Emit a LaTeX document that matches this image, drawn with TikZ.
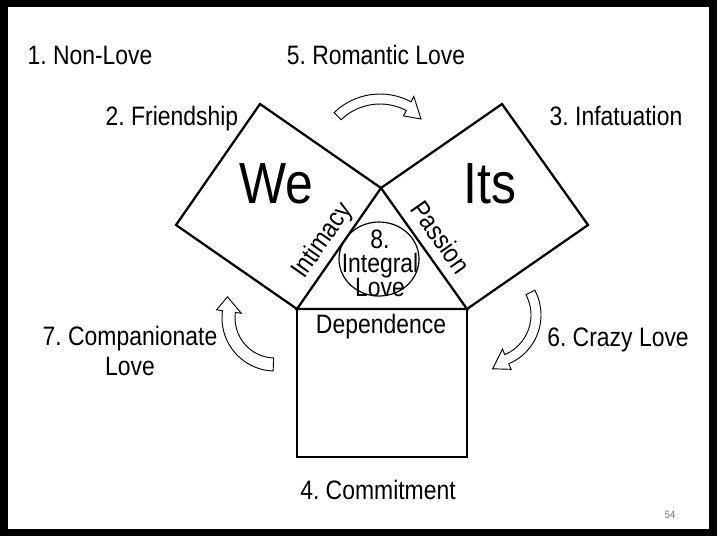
\documentclass[tikz,border=0pt]{standalone}
\usepackage{fontspec}
\setmainfont{Liberation Sans}[FakeStretch=0.86]
\frenchspacing
\usetikzlibrary{calc}
\tikzset{
  lbl/.style={font=\fontsize{20}{22.5}\selectfont, inner sep=0pt, align=center},
  big/.style={font=\fontsize{43.5}{48}\selectfont, inner sep=0pt},
  side/.style={line width=1.7pt, line join=miter},
  ring/.style={draw, line width=0.9pt},
  hollow/.style={draw, fill=white, line width=0.7pt, line join=miter},
  pagenum/.style={font=\fontsize{8}{9}\selectfont, text=black!55, inner sep=0pt}}
% bent block arrow: centre, tail angle, head angle, tip angle, outer r, inner r, tip r
\newcommand{\bentarrow}[7]{%
  \draw[hollow] ($(#1)+(#2:#5)$) arc[start angle=#2, end angle=#3, radius=#5]
    -- ($(#1)+(#3:{#5+6})$) -- ($(#1)+(#4:#7)$)
    -- ($(#1)+(#3:{#6-6})$) -- ($(#1)+(#3:#6)$)
    arc[start angle=#3, end angle=#2, radius=#6] -- cycle;}

\begin{document}
\begin{tikzpicture}[x=0.75pt, y=0.75pt]
  \useasboundingbox (0,0) rectangle (720,-540);
  \draw[line width=5.6pt] (4,-3.5) rectangle (713,-532.5);

  % triangle with its three squares
  \coordinate (apex) at (381,-188);
  \coordinate (bl) at (297,-309);
  \coordinate (br) at (467,-309);
  \draw[side] (bl) -- (apex) -- (br) -- cycle;
  \draw[side] (bl) -- (176,-225) -- (260,-104) -- (apex);
  \draw[side] (br) -- (588,-225) -- (502,-104) -- (apex);
  \draw[side] (bl) rectangle (467,-457);
  \draw[ring] (379,-259) ellipse [x radius=40, y radius=37];

  \node[big, anchor=base] (we) at (276,-203) {We};
  \node[big, anchor=base] (its) at (490,-203) {Its};
  \node[lbl, rotate=55] (intimacy) at (323,-241) {Intimacy};
  \node[lbl, rotate=-55] (passion) at (441,-237) {Passion};
  \node[lbl, font=\fontsize{20}{18}\selectfont] (integral) at (380,-263) {8.\\Integral\\Love};
  \node[lbl, anchor=base] (dependence) at (381,-333) {Dependence};

  % the eight kinds of love
  \node[lbl, anchor=base] (nonlove) at (90,-64) {1. Non-Love};
  \node[lbl, anchor=base] (romantic) at (376,-64) {5. Romantic Love};
  \node[lbl, anchor=base] (friendship) at (172,-125) {2. Friendship};
  \node[lbl, anchor=base] (infatuation) at (616,-125) {3. Infatuation};
  \node[lbl, font=\fontsize{20}{22.5}\selectfont] (companionate) at (130,-351) {7. Companionate\\Love};
  \node[lbl, anchor=base] (crazy) at (618,-346) {6. Crazy Love};
  \node[lbl, anchor=base] (commitment) at (378,-499) {4. Commitment};

  \bentarrow{380,-160}{134}{62}{45}{66}{56}{58}
  \bentarrow{488,-315}{28}{-67}{-85}{53}{43}{54}
  \bentarrow{275,-318}{-92}{-188}{-204}{53}{40}{52}

  \node[pagenum] (page) at (670,-515) {54};
\end{tikzpicture}
\end{document}
